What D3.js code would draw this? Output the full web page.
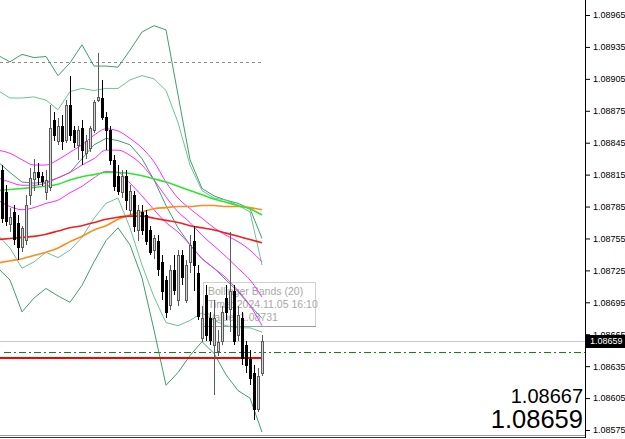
<!DOCTYPE html>
<html>
<head>
<meta charset="utf-8" />
<title>EURUSD M5</title>
<style>
body { margin:0; background:#fff; }
#graph { width:625px; height:439px; }
.axis text { font-family:"Liberation Sans", Arial, sans-serif; font-size:9px; }
.tip text { font-family:"Liberation Sans", Arial, sans-serif; font-size:10.5px; fill:#a8a8a8; }
.quote { font-family:"Liberation Sans", Arial, sans-serif; fill:#000; text-anchor:end; }
</style>
</head>
<body>
<div id="graph"></div>

<script src="https://cdnjs.cloudflare.com/ajax/libs/d3/7.8.5/d3.min.js"></script>
<script>
// candles, oldest first
var opens  = [1.08819,1.08799,1.08768,1.08780,1.08770,1.08747,1.08753,1.08796,1.08810,1.08817,1.08814,1.08799,1.08804,1.08866,1.08847,1.08861,1.08847,1.08880,1.08857,1.08843,1.08859,1.08836,1.08840,1.08857,1.08885,1.08887,1.08869,1.08857,1.08829,1.08814,1.08799,1.08814,1.08782,1.08796,1.08763,1.08780,1.08777,1.08763,1.08744,1.08753,1.08733,1.08716,1.08692,1.08725,1.08697,1.08739,1.08697,1.08733,1.08753,1.08723,1.08661,1.08702,1.08680,1.08655,1.08650,1.08659,1.08699,1.08689,1.08706,1.08664,1.08680,1.08655,1.08642,1.08629,1.08595,1.08629]
var highs  = [1.08824,1.08805,1.08784,1.08786,1.08777,1.08767,1.08796,1.08821,1.08830,1.08826,1.08817,1.08819,1.08880,1.08874,1.08868,1.08871,1.08885,1.08908,1.08861,1.08861,1.08866,1.08852,1.08861,1.08885,1.08929,1.08904,1.08874,1.08861,1.08833,1.08824,1.08819,1.08819,1.08805,1.08800,1.08786,1.08786,1.08782,1.08767,1.08758,1.08758,1.08739,1.08720,1.08730,1.08739,1.08744,1.08744,1.08735,1.08758,1.08767,1.08730,1.08692,1.08711,1.08686,1.08697,1.08669,1.08692,1.08711,1.08761,1.08711,1.08692,1.08686,1.08659,1.08650,1.08636,1.08633,1.08664]
var lows   = [1.08770,1.08767,1.08761,1.08749,1.08735,1.08742,1.08749,1.08786,1.08800,1.08805,1.08804,1.08791,1.08800,1.08847,1.08843,1.08838,1.08845,1.08847,1.08840,1.08829,1.08824,1.08830,1.08836,1.08854,1.08883,1.08866,1.08838,1.08824,1.08800,1.08796,1.08793,1.08782,1.08777,1.08761,1.08753,1.08758,1.08749,1.08739,1.08736,1.08720,1.08697,1.08680,1.08688,1.08702,1.08692,1.08711,1.08694,1.08723,1.08706,1.08678,1.08658,1.08659,1.08655,1.08608,1.08645,1.08655,1.08678,1.08667,1.08655,1.08659,1.08636,1.08629,1.08617,1.08584,1.08592,1.08626]
var closes = [1.08774,1.08772,1.08775,1.08755,1.08747,1.08765,1.08786,1.08812,1.08817,1.08812,1.08809,1.08810,1.08859,1.08852,1.08861,1.08847,1.08880,1.08852,1.08846,1.08857,1.08838,1.08847,1.08859,1.08883,1.08888,1.08869,1.08857,1.08829,1.08805,1.08800,1.08814,1.08791,1.08800,1.08767,1.08782,1.08763,1.08753,1.08742,1.08755,1.08727,1.08706,1.08686,1.08725,1.08706,1.08739,1.08718,1.08730,1.08749,1.08730,1.08683,1.08680,1.08664,1.08659,1.08680,1.08658,1.08686,1.08686,1.08706,1.08659,1.08683,1.08642,1.08636,1.08624,1.08595,1.08626,1.08659]

// indicator readings, taken every third bar
var lineIdx = [-1,2,5,8,11,14,17,20,23,26,29,32,35,38,41,44,47,50,53,56,59,62,65]
var bbOuterUp  = [1.08927,1.08921,1.08928,1.08925,1.08926,1.08908,1.08920,1.08937,1.08917,1.08917,1.08916,1.08932,1.08949,1.08955,1.08951,1.08890,1.08829,1.08802,1.08795,1.08791,1.08788,1.08783,1.08755]
var bbInnerUp  = [1.08894,1.08887,1.08887,1.08888,1.08885,1.08876,1.08893,1.08896,1.08894,1.08896,1.08896,1.08904,1.08908,1.08905,1.08894,1.08864,1.08824,1.08800,1.08793,1.08791,1.08786,1.08780,1.08730]
var bbMiddle   = [1.08827,1.08817,1.08808,1.08807,1.08808,1.08812,1.08817,1.08830,1.08843,1.08849,1.08847,1.08843,1.08830,1.08810,1.08786,1.08765,1.08749,1.08736,1.08727,1.08716,1.08705,1.08692,1.08680]
var bbInnerLow = [1.08758,1.08746,1.08727,1.08733,1.08742,1.08737,1.08744,1.08756,1.08774,1.08788,1.08793,1.08765,1.08730,1.08700,1.08676,1.08673,1.08678,1.08685,1.08678,1.08673,1.08671,1.08671,1.08667]
var bbOuterLow = [1.08727,1.08716,1.08686,1.08699,1.08708,1.08701,1.08695,1.08711,1.08733,1.08753,1.08765,1.08749,1.08718,1.08669,1.08617,1.08629,1.08645,1.08658,1.08647,1.08627,1.08612,1.08605,1.08573]
var envUp      = [1.08838,1.08835,1.08829,1.08824,1.08824,1.08829,1.08836,1.08843,1.08852,1.08858,1.08856,1.08849,1.08840,1.08827,1.08808,1.08793,1.08783,1.08774,1.08765,1.08758,1.08752,1.08744,1.08733]
var envMid     = [1.08812,1.08808,1.08805,1.08805,1.08807,1.08812,1.08817,1.08824,1.08830,1.08838,1.08838,1.08833,1.08824,1.08810,1.08794,1.08780,1.08770,1.08758,1.08748,1.08738,1.08727,1.08716,1.08700]
var envLow     = [1.08791,1.08785,1.08782,1.08784,1.08788,1.08791,1.08798,1.08804,1.08812,1.08818,1.08817,1.08807,1.08795,1.08782,1.08770,1.08761,1.08749,1.08736,1.08727,1.08718,1.08706,1.08692,1.08673]
var maLime     = [1.08800,1.08801,1.08802,1.08803,1.08804,1.08806,1.08810,1.08813,1.08815,1.08817,1.08817,1.08816,1.08814,1.08811,1.08808,1.08804,1.08800,1.08796,1.08792,1.08789,1.08786,1.08783,1.08777]
var maRed      = [1.08754,1.08755,1.08756,1.08757,1.08759,1.08762,1.08765,1.08767,1.08770,1.08773,1.08775,1.08776,1.08776,1.08774,1.08772,1.08770,1.08767,1.08765,1.08763,1.08760,1.08757,1.08754,1.08751]
var maOrange   = [1.08732,1.08734,1.08736,1.08739,1.08742,1.08746,1.08752,1.08757,1.08763,1.08767,1.08773,1.08777,1.08780,1.08783,1.08784,1.08785,1.08785,1.08786,1.08786,1.08785,1.08785,1.08784,1.08782]

var priceTicks = [1.08965,1.08935,1.08905,1.08875,1.08845,1.08815,1.08785,1.08755,1.08725,1.08695,1.08665,1.08635,1.08605,1.08575]
var dottedLevel = 1.08921
var redLevel = 1.08643
var dashLevel = 1.08648
var bidPrice = 1.08659
var bigQuotes = ["1.08667", "1.08659"]
var tipLines = ["Bollinger Bands (20)", "Time: 2024.11.05 16:10", "Value: 1.08731"]

!(function(){
    "use strict"

    var width = 625, height = 439
    var plotRight = 585, plotBottom = 436
    var lastBar = opens.length - 1

    var svg = d3.select("#graph").append("svg")
        .attr("width", width).attr("height", height)

    var xScale = d3.scaleLinear().domain([0, 65]).range([2, 262])
    var yScale = d3.scaleLinear().domain([1.08575, 1.08965]).range([430, 15])

    var levelLayer = svg.append("g")
    var tipLayer = svg.append("g").classed("tip", true)
    var lineLayer = svg.append("g")
    var candleLayer = svg.append("g")
    var axisLayer = svg.append("g").classed("axis", true)

    drawLevels()
    drawTip()
    drawLines()
    drawCandles()
    drawAxis()

    function hline(g, price, x0, x1, color, w, dash) {
        var yy = Math.round(yScale(price)) + 0.5
        g.append("line")
            .attr("x1", x0).attr("x2", x1)
            .attr("y1", yy).attr("y2", yy)
            .attr("stroke", color).attr("stroke-width", w)
            .attr("stroke-dasharray", dash || null)
    }

    function drawLevels() {
        var endX = xScale(lastBar) + 1
        hline(levelLayer, dottedLevel, 0, endX, "#8c8c8c", 1, "3,3")
        hline(levelLayer, bidPrice, 0, plotRight, "#c8c8c8", 1)
        hline(levelLayer, dashLevel, 4, plotRight, "#0a8a0a", 1, "7,3,2,3")
    }

    function drawTip() {
        tipLayer.append("rect")
            .attr("x", 203.5).attr("y", 282.5)
            .attr("width", 112).attr("height", 44)
            .attr("fill", "#fff").attr("stroke", "#d0d0d0")
        tipLayer.append("line")
            .attr("x1", 203).attr("x2", 316).attr("y1", 326.5).attr("y2", 326.5)
            .attr("stroke", "#9a9a9a")
        tipLayer.selectAll("text").data(tipLines).enter().append("text")
            .attr("x", 208)
            .attr("y", function(d, i){ return 295 + i * 13 })
            .text(function(d){ return d })
    }

    function drawLines() {
        var series = [
            {v: bbOuterUp,  c: "#3f9e6c", w: 1, curve: d3.curveLinear},
            {v: bbInnerUp,  c: "#6cc493", w: 1, curve: d3.curveLinear},
            {v: bbMiddle,   c: "#3f9e6c", w: 1, curve: d3.curveLinear},
            {v: bbInnerLow, c: "#6cc493", w: 1, curve: d3.curveLinear},
            {v: bbOuterLow, c: "#3f9e6c", w: 1, curve: d3.curveLinear},
            {v: envUp,  c: "#ff2cff", w: 1, curve: d3.curveMonotoneX},
            {v: envMid, c: "#ff2cff", w: 1, curve: d3.curveMonotoneX},
            {v: envLow, c: "#ff2cff", w: 1, curve: d3.curveMonotoneX},
            {v: maOrange, c: "#ff8c1a", w: 1.6, curve: d3.curveMonotoneX},
            {v: maRed,    c: "#ee2020", w: 1.6, curve: d3.curveMonotoneX},
            {v: maLime,   c: "#2ee62e", w: 1.6, curve: d3.curveMonotoneX}
        ]

        lineLayer.selectAll("path").data(series).enter().append("path")
            .attr("fill", "none")
            .attr("stroke", function(d){ return d.c })
            .attr("stroke-width", function(d){ return d.w })
            .attr("d", function(d){
                return d3.line()
                    .x(function(v, i){ return xScale(lineIdx[i]) })
                    .y(function(v){ return yScale(v) })
                    .curve(d.curve)(d.v)
            })

        var endX = xScale(lastBar) + 1
        var yy = Math.round(yScale(redLevel))
        lineLayer.append("line")
            .attr("x1", 0).attr("x2", endX)
            .attr("y1", yy).attr("y2", yy)
            .attr("stroke", "#ff0000").attr("stroke-width", 2)
    }

    function drawCandles() {
        var bars = d3.range(opens.length)
        var up = function(i){ return closes[i] >= opens[i] }

        var g = candleLayer.selectAll(".bar").data(bars).enter().append("g")
            .classed("bar", true)
            .attr("shape-rendering", "crispEdges")

        g.append("line")
            .attr("x1", function(i){ return Math.round(xScale(i)) + 0.5 })
            .attr("x2", function(i){ return Math.round(xScale(i)) + 0.5 })
            .attr("y1", function(i){ return yScale(highs[i]) })
            .attr("y2", function(i){ return yScale(lows[i]) })
            .attr("stroke", function(i){ return up(i) ? "#5a5a5a" : "#000" })

        g.append("rect")
            .attr("x", function(i){ return Math.round(xScale(i)) - 0.5 })
            .attr("width", 2)
            .attr("y", function(i){ return Math.round(yScale(Math.max(opens[i], closes[i]))) + 0.5 })
            .attr("height", function(i){ return Math.max(1, Math.round(Math.abs(yScale(opens[i]) - yScale(closes[i])))) })
            .attr("fill", function(i){ return up(i) ? "#d4d4d4" : "#000" })
            .attr("stroke", function(i){ return up(i) ? "#5a5a5a" : "#000" })
    }

    function drawAxis() {
        axisLayer.append("line")
            .attr("x1", plotRight + 0.5).attr("x2", plotRight + 0.5)
            .attr("y1", 0).attr("y2", plotBottom + 2)
            .attr("stroke", "#000")
        axisLayer.append("line")
            .attr("x1", 0).attr("x2", plotRight)
            .attr("y1", plotBottom - 0.5).attr("y2", plotBottom - 0.5)
            .attr("stroke", "#9a9a9a")
        axisLayer.append("line")
            .attr("x1", 0).attr("x2", plotRight)
            .attr("y1", plotBottom + 1.5).attr("y2", plotBottom + 1.5)
            .attr("stroke", "#333")

        var yAxis = d3.axisRight(yScale)
            .tickValues(priceTicks)
            .tickFormat(d3.format(".5f"))
            .tickSize(4)
            .tickPadding(3)

        var ax = axisLayer.append("g")
            .attr("transform", "translate(" + [plotRight + 1, 0] + ")")
            .call(yAxis)
        ax.select(".domain").remove()
        ax.selectAll(".tick line").attr("stroke", "#000")
        ax.selectAll(".tick text").style("fill", "#000")

        // current bid box sits over the 1.08665 label, as in the terminal
        var by = yScale(bidPrice)
        axisLayer.append("rect")
            .attr("x", plotRight + 1).attr("y", Math.round(by) - 6)
            .attr("width", 39).attr("height", 13)
            .attr("fill", "#000")
        axisLayer.append("text")
            .attr("x", plotRight + 5).attr("y", by + 3.5)
            .style("fill", "#fff")
            .text(d3.format(".5f")(bidPrice))

        svg.append("text").classed("quote", true)
            .attr("x", 583).attr("y", 403)
            .attr("font-size", 20)
            .text(bigQuotes[0])
        svg.append("text").classed("quote", true)
            .attr("x", 583).attr("y", 428)
            .attr("font-size", 25.5)
            .text(bigQuotes[1])
    }

}());
</script>
</body>
</html>
